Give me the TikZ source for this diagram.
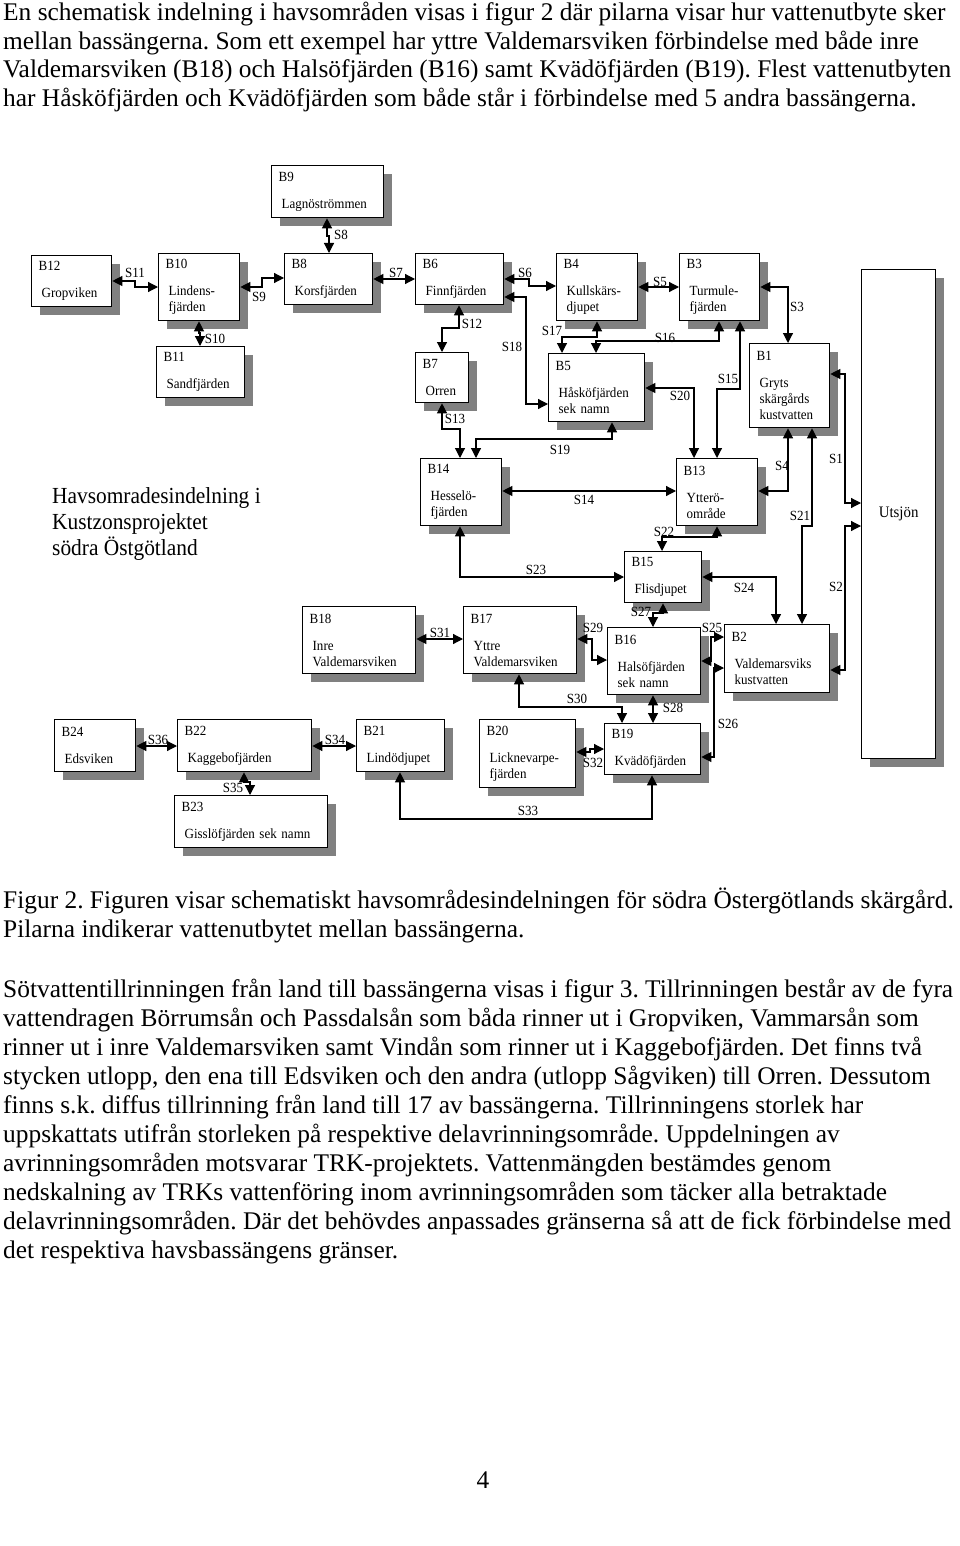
\documentclass[tikz,border=0pt]{standalone}
\usepackage{fontspec}
\setmainfont[FakeStretch=0.93]{Liberation Serif}
\newfontfamily\pagefont{Liberation Serif}
\usepackage{tikz}
\usetikzlibrary{arrows.meta,shadows}

\definecolor{shadowgray}{RGB}{128,128,128}
\frenchspacing

\begin{document}
\begin{tikzpicture}[x=1pt, y=-1pt,
    basin/.style={draw, line width=1.3pt, fill=white, align=left, anchor=north west,
      inner xsep=7pt, inner ysep=0pt, font=\fontsize{14}{16}\selectfont,
      drop shadow={shadow xshift=8pt, shadow yshift=-8pt, fill=shadowgray, opacity=1}},
    flow/.style={line width=1.2pt,
      {Triangle[length=10pt,width=10pt]}-{Triangle[length=10pt,width=10pt]}},
    slabel/.style={font=\fontsize{14}{16}\selectfont, inner sep=0pt},
    bodytext/.style={anchor=base west, inner sep=0pt, font=\pagefont\fontsize{25.4}{29}\selectfont}]
  \path[use as bounding box, fill=white] (0,0) rectangle (960,1546);

  % text above the figure
  \node[bodytext] (p1a) at (3,21) {En schematisk indelning i havsområden visas i figur 2 där pilarna visar hur vattenutbyte sker};
  \node[bodytext] (p1b) at (3,50) {mellan bassängerna. Som ett exempel har yttre Valdemarsviken förbindelse med både inre};
  \node[bodytext] (p1c) at (3,78) {Valdemarsviken (B18) och Halsöfjärden (B16) samt Kvädöfjärden (B19). Flest vattenutbyten};
  \node[bodytext] (p1d) at (3,107) {har Håsköfjärden och Kvädöfjärden som både står i förbindelse med 5 andra bassängerna.};

  % basins, top part
  \node[basin, minimum width=112, minimum height=52, text width=98] (b9) at (271,165) {B9\\[11pt]\hspace*{3pt}Lagnöströmmen};
  \node[basin, minimum width=80, minimum height=51, text width=66] (b12) at (31,255) {B12\\[11pt]\hspace*{3pt}Gropviken};
  \node[basin, minimum width=81, minimum height=67, text width=67] (b10) at (158,253) {B10\\[11pt]\hspace*{3pt}Lindens-\\\hspace*{3pt}fjärden};
  \node[basin, minimum width=88, minimum height=51, text width=74] (b11) at (156,346) {B11\\[11pt]\hspace*{3pt}Sandfjärden};
  \node[basin, minimum width=88, minimum height=51, text width=74] (b8) at (284,253) {B8\\[11pt]\hspace*{3pt}Korsfjärden};
  \node[basin, minimum width=88, minimum height=51, text width=74] (b6) at (415,253) {B6\\[11pt]\hspace*{3pt}Finnfjärden};
  \node[basin, minimum width=53, minimum height=50, text width=39] (b7) at (415,352) {B7\\[11pt]\hspace*{3pt}Orren};
  \node[basin, minimum width=81, minimum height=67, text width=67] (b4) at (556,253) {B4\\[11pt]\hspace*{3pt}Kullskärs-\\\hspace*{3pt}djupet};
  \node[basin, minimum width=96, minimum height=68, text width=82] (b5) at (548,353) {B5\\[11pt]\hspace*{3pt}Håsköfjärden\\\hspace*{3pt}sek namn};
  \node[basin, minimum width=80, minimum height=67, text width=66] (b3) at (679,253) {B3\\[11pt]\hspace*{3pt}Turmule-\\\hspace*{3pt}fjärden};
  \node[basin, minimum width=80, minimum height=84, text width=66] (b1) at (749,343) {B1\\[11pt]\hspace*{3pt}Gryts\\\hspace*{3pt}skärgårds\\\hspace*{3pt}kustvatten};
  \node[basin, minimum width=74, minimum height=489, font=\fontsize{16}{18}\selectfont] (ut) at (861,269) {Utsjön};

  % basins, middle part
  \node[basin, minimum width=81, minimum height=67, text width=67] (b14) at (420,458) {B14\\[11pt]\hspace*{3pt}Hesselö-\\\hspace*{3pt}fjärden};
  \node[basin, minimum width=81, minimum height=67, text width=67] (b13) at (676,458) {B13\\[11pt]\hspace*{3pt}Ytterö-\\\hspace*{3pt}område};
  \node[basin, minimum width=77, minimum height=51, text width=63] (b15) at (624,551) {B15\\[11pt]\hspace*{3pt}Flisdjupet};
  \node[basin, minimum width=113, minimum height=67, text width=99] (b18) at (302,606) {B18\\[11pt]\hspace*{3pt}Inre\\\hspace*{3pt}Valdemarsviken};
  \node[basin, minimum width=113, minimum height=67, text width=99] (b17) at (463,606) {B17\\[11pt]\hspace*{3pt}Yttre\\\hspace*{3pt}Valdemarsviken};
  \node[basin, minimum width=93, minimum height=67, text width=79] (b16) at (607,627) {B16\\[11pt]\hspace*{3pt}Halsöfjärden\\\hspace*{3pt}sek namn};
  \node[basin, minimum width=105, minimum height=68, text width=91] (b2) at (724,624) {B2\\[11pt]\hspace*{3pt}Valdemarsviks\\\hspace*{3pt}kustvatten};

  % basins, bottom part
  \node[basin, minimum width=96, minimum height=51, text width=82] (b19) at (604,723) {B19\\[11pt]\hspace*{3pt}Kvädöfjärden};
  \node[basin, minimum width=96, minimum height=68, text width=82] (b20) at (479,719) {B20\\[11pt]\hspace*{3pt}Licknevarpe-\\\hspace*{3pt}fjärden};
  \node[basin, minimum width=81, minimum height=52, text width=67] (b24) at (54,719) {B24\\[11pt]\hspace*{3pt}Edsviken};
  \node[basin, minimum width=134, minimum height=52, text width=120] (b22) at (177,719) {B22\\[11pt]\hspace*{3pt}Kaggebofjärden};
  \node[basin, minimum width=88, minimum height=52, text width=74] (b21) at (356,719) {B21\\[11pt]\hspace*{3pt}Lindödjupet};
  \node[basin, minimum width=153, minimum height=52, text width=139] (b23) at (174,795) {B23\\[11pt]\hspace*{3pt}Gisslöfjärden sek namn};

  \node[anchor=north west, align=left, inner sep=0pt, font=\fontsize{23}{26}\selectfont] (title) at (52,487)
    {Havsomradesindelning i\\Kustzonsprojektet\\södra Östgötland};

  % exchange between basins
  \draw[flow] (b12.east |- 0,281) -- (135,281) |- (b10.west |- 0,287);
  \draw[flow] (b10.east |- 0,287) -- (262,287) |- (b8.west |- 0,278);
  \draw[flow] (b9.south -| 327,0) -- (327,236) -| (b8.north -| 329,0);
  \draw[flow] (b10.south -| 199,0) -- (199,333) -| (b11.north -| 200,0);
  \draw[flow] (b8.east |- 0,279) -- (b6.west |- 0,279);
  \draw[flow] (b6.east |- 0,279) -- (529,279) |- (b4.west |- 0,286);
  \draw[flow] (b6.east |- 0,297) -- (526,297) |- (b5.west |- 0,404);
  \draw[flow] (b6.south -| 459,0) |- (442,328) -- (b7.north -| 442,0);
  \draw[flow] (b7.south -| 442,0) |- (460,429) -- (b14.north -| 460,0);
  \draw[flow] (b4.south -| 597,0) |- (562,337) -- (b5.north -| 562,0);
  \draw[flow] (b3.south -| 719,0) |- (596,341) -- (b5.north -| 596,0);
  \draw[flow] (b4.east |- 0,287) -- (b3.west |- 0,287);
  \draw[flow] (b3.east |- 0,287) -| (b1.north -| 788,0);
  \draw[flow] (b5.east |- 0,388) -| (b13.north -| 694,0);
  \draw[flow] (b3.south -| 740,0) |- (717,389) -- (b13.north -| 717,0);
  \draw[flow] (b5.south -| 612,0) |- (476,439) -- (b14.north -| 476,0);
  \draw[flow] (b14.east |- 0,491) -- (b13.west |- 0,491);
  \draw[flow] (b1.south -| 788,0) |- (b13.east |- 0,491);
  \draw[flow] (b1.south -| 812,0) |- (802,526) -- (b2.north -| 802,0);
  \draw[flow] (b1.east |- 0,374) -- (845,374) |- (ut.west |- 0,503);
  \draw[flow] (b2.east |- 0,670) -- (845,670) |- (ut.west |- 0,526);
  \draw[flow] (b13.south -| 717,0) |- (662,537) -- (b15.north -| 662,0);
  \draw[flow] (b14.south -| 460,0) |- (b15.west |- 0,577);
  \draw[flow] (b15.east |- 0,577) -| (b2.north -| 776,0);
  \draw[flow] (b15.south -| 663,0) |- (653,613) -- (b16.north -| 653,0);
  \draw[flow] (b16.east |- 0,661) -- (711,661) |- (b2.west |- 0,637);
  \draw[flow] (b19.east |- 0,757) -- (714,757) |- (b2.west |- 0,668);
  \draw[flow] (b17.east |- 0,639) -- (592,639) |- (b16.west |- 0,660);
  \draw[flow] (b18.east |- 0,639) -- (b17.west |- 0,639);
  \draw[flow] (b17.south -| 519,0) |- (622,707) -- (b19.north -| 622,0);
  \draw[flow] (b16.south -| 653,0) -- (b19.north -| 653,0);
  \draw[flow] (b20.east |- 0,752) -- (590,752) |- (b19.west |- 0,749);
  \draw[flow] (b21.south -| 400,0) |- (652,819) -- (b19.south -| 652,0);
  \draw[flow] (b22.east |- 0,746) -- (b21.west |- 0,746);
  \draw[flow] (b24.east |- 0,746) -- (b22.west |- 0,746);
  \draw[flow] (b22.south -| 244,0) |- (250,782) -- (b23.north -| 250,0);

  % connection names
  \node[slabel] (s1) at (836,459) {S1};
  \node[slabel] (s2) at (836,587) {S2};
  \node[slabel] (s3) at (797,307) {S3};
  \node[slabel] (s4) at (782,466) {S4};
  \node[slabel] (s5) at (660,282) {S5};
  \node[slabel] (s6) at (525,273) {S6};
  \node[slabel] (s7) at (396,273) {S7};
  \node[slabel] (s8) at (341,235) {S8};
  \node[slabel] (s9) at (259,297) {S9};
  \node[slabel] (s10) at (215,339) {S10};
  \node[slabel] (s11) at (135,273) {S11};
  \node[slabel] (s12) at (472,324) {S12};
  \node[slabel] (s13) at (455,419) {S13};
  \node[slabel] (s14) at (584,500) {S14};
  \node[slabel] (s15) at (728,379) {S15};
  \node[slabel] (s16) at (665,338) {S16};
  \node[slabel] (s17) at (552,331) {S17};
  \node[slabel] (s18) at (512,347) {S18};
  \node[slabel] (s19) at (560,450) {S19};
  \node[slabel] (s20) at (680,396) {S20};
  \node[slabel] (s21) at (800,516) {S21};
  \node[slabel] (s22) at (664,532) {S22};
  \node[slabel] (s23) at (536,570) {S23};
  \node[slabel] (s24) at (744,588) {S24};
  \node[slabel] (s25) at (712,628) {S25};
  \node[slabel] (s26) at (728,724) {S26};
  \node[slabel] (s27) at (641,612) {S27};
  \node[slabel] (s28) at (673,708) {S28};
  \node[slabel] (s29) at (593,628) {S29};
  \node[slabel] (s30) at (577,699) {S30};
  \node[slabel] (s31) at (440,633) {S31};
  \node[slabel] (s32) at (593,763) {S32};
  \node[slabel] (s33) at (528,811) {S33};
  \node[slabel] (s34) at (335,740) {S34};
  \node[slabel] (s35) at (233,788) {S35};
  \node[slabel] (s36) at (158,740) {S36};

  % caption and text below
  \node[bodytext] (cap1) at (3,908) {Figur 2. Figuren visar schematiskt havsområdesindelningen för södra Östergötlands skärgård.};
  \node[bodytext] (cap2) at (3,937) {Pilarna indikerar vattenutbytet mellan bassängerna.};
  \node[bodytext] (p2a) at (3,997) {Sötvattentillrinningen från land till bassängerna visas i figur 3. Tillrinningen består av de fyra};
  \node[bodytext] (p2b) at (3,1026) {vattendragen Börrumsån och Passdalsån som båda rinner ut i Gropviken, Vammarsån som};
  \node[bodytext] (p2c) at (3,1055) {rinner ut i inre Valdemarsviken samt Vindån som rinner ut i Kaggebofjärden. Det finns två};
  \node[bodytext] (p2d) at (3,1084) {stycken utlopp, den ena till Edsviken och den andra (utlopp Sågviken) till Orren. Dessutom};
  \node[bodytext] (p2e) at (3,1113) {finns s.k. diffus tillrinning från land till 17 av bassängerna. Tillrinningens storlek har};
  \node[bodytext] (p2f) at (3,1142) {uppskattats utifrån storleken på respektive delavrinningsområde. Uppdelningen av};
  \node[bodytext] (p2g) at (3,1171) {avrinningsområden motsvarar TRK-projektets. Vattenmängden bestämdes genom};
  \node[bodytext] (p2h) at (3,1200) {nedskalning av TRKs vattenföring inom avrinningsområden som täcker alla betraktade};
  \node[bodytext] (p2i) at (3,1229) {delavrinningsområden. Där det behövdes anpassades gränserna så att de fick förbindelse med};
  \node[bodytext] (p2j) at (3,1258) {det respektiva havsbassängens gränser.};
  \node[anchor=base, inner sep=0pt, font=\pagefont\fontsize{25.4}{29}\selectfont] (pageno) at (483,1488) {4};
\end{tikzpicture}
\end{document}
